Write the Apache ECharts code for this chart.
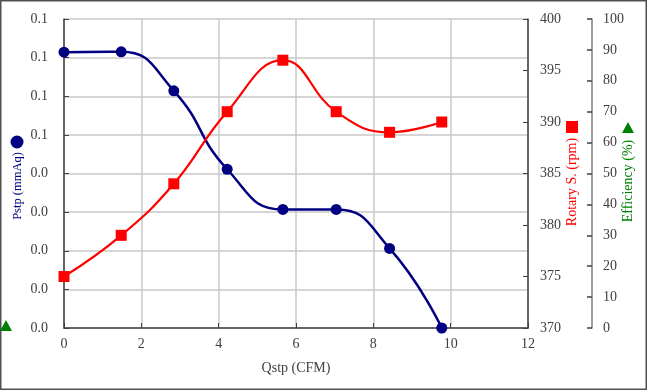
<!DOCTYPE html>
<html><head><meta charset="utf-8">
<script src="https://cdn.jsdelivr.net/npm/echarts@6/dist/echarts.min.js"></script>
<style>html,body{margin:0;padding:0;background:#fff}#c{width:647px;height:390px}</style>
</head><body><div id="c"></div>
<script>
const qstp = [0, 1.48, 2.84, 4.22, 5.66, 7.04, 8.42, 9.77];
const pstp = [0.0714, 0.0715, 0.0614, 0.0411, 0.0307, 0.0307, 0.0206, 0.0];
const rotary = [375, 379, 384, 391, 396, 391, 389, 390];
const leftTickLabels = ['0.0','0.0','0.0','0.0','0.0','0.1','0.1','0.1','0.1'];
const xTitle = 'Qstp (CFM)';
const yTitle1 = 'Pstp (mmAq)';
const yTitle2 = 'Rotary S. (rpm)';
const yTitle3 = 'Efficiency (%)';

const FONT = '"Liberation Serif", "DejaVu Serif", serif';
const labelStyle = {color:'#404040', fontFamily:FONT, fontSize:14};
const axisLineStyle = {lineStyle:{color:'#404040', width:1.5}};
const chart = echarts.init(document.getElementById('c'), null, {renderer:'canvas'});
chart.setOption({
  animation:false,
  backgroundColor:'#fff',
  grid:{left:64, right:119, top:19, bottom:62, containLabel:false},
  xAxis:{type:'value', min:0, max:12, interval:2,
    name:xTitle, nameLocation:'middle', nameGap:33,
    nameTextStyle:{color:'#404040', fontFamily:FONT, fontSize:14},
    axisLine:axisLineStyle,
    axisTick:{inside:true, length:5, lineStyle:{color:'#404040'}},
    axisLabel:Object.assign({margin:9}, labelStyle),
    splitLine:{show:true, lineStyle:{color:'#c8c8c8', width:1.5}}},
  yAxis:[
    {type:'value', position:'left', min:0, max:0.08, interval:0.01,
     axisLine:{show:true, lineStyle:{color:'#404040', width:1.5}},
     axisTick:{show:true, inside:true, length:5, lineStyle:{color:'#404040'}},
     axisLabel:Object.assign({margin:16, formatter:v=>leftTickLabels[Math.round(v/0.01)]}, labelStyle),
     splitLine:{show:true, lineStyle:{color:'#c8c8c8', width:1.5}}},
    {type:'value', position:'right', min:370, max:400, interval:5,
     axisLine:{show:true, lineStyle:{color:'#404040', width:1.5}},
     axisTick:{show:true, inside:true, length:5, lineStyle:{color:'#404040'}},
     axisLabel:Object.assign({margin:12}, labelStyle),
     splitLine:{show:false}},
    {type:'value', position:'right', offset:64, min:0, max:100, interval:10,
     axisLine:{show:true, lineStyle:{color:'#808080', width:1.5}},
     axisTick:{show:true, inside:true, length:5, lineStyle:{color:'#404040', width:1.5}},
     axisLabel:Object.assign({margin:11}, labelStyle),
     splitLine:{show:false}}
  ],
  series:[
    {type:'line', yAxisIndex:0, smooth:0.5, data:qstp.map((x,i)=>[x,pstp[i]]),
     symbol:'circle', symbolSize:11, lineStyle:{color:'#000080', width:2.5},
     itemStyle:{color:'#000080'}},
    {type:'line', yAxisIndex:1, smooth:0.45, data:qstp.map((x,i)=>[x,rotary[i]]),
     symbol:'rect', symbolSize:11, lineStyle:{color:'#ff0000', width:2.2},
     itemStyle:{color:'#ff0000'}}
  ],
  graphic:[
    {type:'rect', shape:{x:0.75, y:0.75, width:645.5, height:388.5}, style:{fill:'none', stroke:'#505050', lineWidth:1.5}, silent:true},
    {type:'text', x:18, y:186, rotation:Math.PI/2, style:{text:yTitle1, fill:'#000080', font:'12.5px '+FONT, textAlign:'center', textVerticalAlign:'middle'}},
    {type:'circle', shape:{cx:17, cy:142, r:6.5}, style:{fill:'#000080'}},
    {type:'text', x:572, y:182, rotation:Math.PI/2, style:{text:yTitle2, fill:'#ff0000', font:'14px '+FONT, textAlign:'center', textVerticalAlign:'middle'}},
    {type:'rect', shape:{x:566, y:121, width:12, height:12}, style:{fill:'#ff0000'}},
    {type:'text', x:628, y:181, rotation:Math.PI/2, style:{text:yTitle3, fill:'#008000', font:'14px '+FONT, textAlign:'center', textVerticalAlign:'middle'}},
    {type:'polygon', shape:{points:[[628,122],[622,133],[634,133]]}, style:{fill:'#008000'}},
    {type:'polygon', shape:{points:[[6,320],[0,331],[12,331]]}, style:{fill:'#008000'}}
  ]
});
</script></body></html>
